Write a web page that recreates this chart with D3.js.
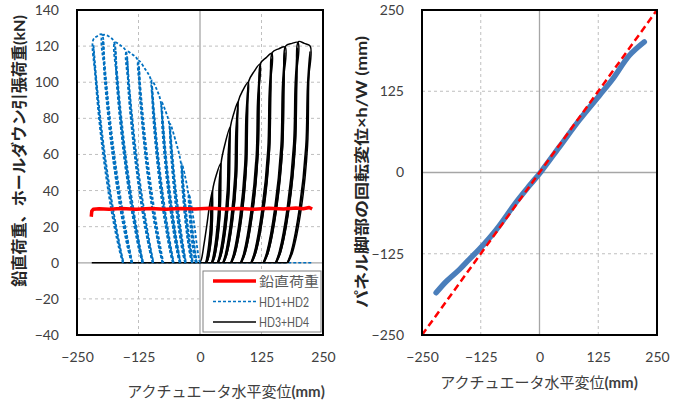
<!DOCTYPE html>
<html>
<head>
<meta charset="utf-8">
<script src="https://cdn.jsdelivr.net/npm/d3@7"></script>
<style>
  body { margin: 0; background: #fff; }
  text { font-family: Lato, "Noto Sans CJK JP", sans-serif; }
</style>
</head>
<body>
<svg id="chart" width="684" height="405"></svg>
<script>
// ---- data ----
var xTicks = [-250, -125, 0, 125, 250];
var yTicksLeft = [-40, -20, 0, 20, 40, 60, 80, 100, 120, 140];
var yTicksRight = [-250, -125, 0, 125, 250];

// vertical load (鉛直荷重), kN vs actuator displacement
var verticalLoad = [[-221,25.5],[-220,28.6],[-217,29.6],[-205,29.9],[-185,29.6],[-160,30.1],[-130,29.7],
  [-100,30.1],[-70,29.7],[-40,30.1],[-10,29.8],[20,30.2],[50,29.8],[80,30.1],[110,29.7],[140,30.2],
  [170,29.8],[195,30.4],[210,29.9],[222,30.6],[228,29.8]];

// HD1+HD2 cycles (two per amplitude)
var hd12Cycles = [
  [[0,0],[-2,2],[-6,9],[-11,20],[-17,31],[-22,38],[-20.5,30.8],[-17,19.8],[-12.4,9.1],[-8.7,2.5],[-7,0]],
  [[-8,0],[-10.7,2.5],[-14.9,9.1],[-19,19.8],[-21.5,30.8],[-21.5,35],[-19,28.8],[-15.5,19.8],[-10.9,9.1],[-7.7,2.5],[-6.5,0]],
  [[-8,0],[-10.7,2.5],[-14.4,9.1],[-19,19.8],[-22.5,30.8],[-24,38.5],[-30,47.5],[-37,55],[-34.8,44.6],[-29.7,28.6],[-22.9,13.2],[-17.4,3.6],[-15,0]],
  [[-16,0],[-19.4,3.6],[-25.4,13.2],[-31.7,28.6],[-35.8,44.6],[-36.5,52],[-33.3,42.6],[-28.2,28.6],[-21.4,13.2],[-16.4,3.6],[-14.5,0]],
  [[-16,0],[-19.4,3.6],[-24.9,13.2],[-31.7,28.6],[-36.8,44.6],[-39,55.5],[-49,67],[-61,77],[-57.8,62.4],[-50.4,40],[-40.5,18.5],[-32.5,5],[-29,0]],
  [[-30,0],[-34.5,5],[-43,18.5],[-52.4,40],[-58.8,62.4],[-60.5,74],[-56.3,60.4],[-48.9,40],[-39,18.5],[-31.5,5],[-28.5,0]],
  [[-30,0],[-34.5,5],[-42.5,18.5],[-52.4,40],[-59.8,62.4],[-63,77.5],[-70,84],[-78,89],[-74.2,72.1],[-65.5,46.3],[-53.7,21.4],[-44.2,5.8],[-40,0]],
  [[-41,0],[-46.2,5.8],[-56.2,21.4],[-67.5,46.3],[-75.2,72.1],[-77.5,86],[-72.7,70.1],[-64,46.3],[-52.2,21.4],[-43.2,5.8],[-39.5,0]],
  [[-41,0],[-46.2,5.8],[-55.7,21.4],[-67.5,46.3],[-76.2,72.1],[-80,89.5],[-88,96],[-98,101],[-93.6,81.8],[-83.5,52.5],[-69.8,24.2],[-58.8,6.6],[-54,0]],
  [[-55,0],[-60.8,6.6],[-72.3,24.2],[-85.5,52.5],[-94.6,81.8],[-97.5,98],[-92.1,79.8],[-82,52.5],[-68.3,24.2],[-57.8,6.6],[-53.5,0]],
  [[-55,0],[-60.8,6.6],[-71.8,24.2],[-85.5,52.5],[-95.6,81.8],[-100,101.5],[-112,107.5],[-125,112],[-120,90.7],[-108.5,58.2],[-93,26.9],[-80.5,7.3],[-75,0]],
  [[-76,0],[-82.5,7.3],[-95.5,26.9],[-110.5,58.2],[-121,90.7],[-124.5,109],[-118.5,88.7],[-107,58.2],[-91.5,26.9],[-79.5,7.3],[-74.5,0]],
  [[-76,0],[-82.5,7.3],[-95,26.9],[-110.5,58.2],[-122,90.7],[-127,112.5],[-138,115.5],[-149,117],[-143.6,94.8],[-131.2,60.8],[-114.4,28.1],[-100.9,7.6],[-95,0]],
  [[-96,0],[-102.9,7.6],[-116.9,28.1],[-133.2,60.8],[-144.6,94.8],[-148.5,114],[-142.1,92.8],[-129.7,60.8],[-112.9,28.1],[-99.9,7.6],[-94.5,0]],
  [[-96,0],[-102.9,7.6],[-116.4,28.1],[-133.2,60.8],[-145.6,94.8],[-151,117.5],[-162,120.5],[-173,122],[-167.3,98.8],[-154.2,63.4],[-136.5,29.3],[-122.3,7.9],[-116,0]],
  [[-117,0],[-124.3,7.9],[-139,29.3],[-156.2,63.4],[-168.3,98.8],[-172.5,119],[-165.8,96.8],[-152.7,63.4],[-135,29.3],[-121.3,7.9],[-115.5,0]],
  [[-117,0],[-124.3,7.9],[-138.5,29.3],[-156.2,63.4],[-169.3,98.8],[-175,122.5],[-186,125.5],[-198,126],[-192,102.1],[-178.2,65.5],[-159.6,30.2],[-144.6,8.2],[-138,0]],
  [[-139,0],[-146.6,8.2],[-162.1,30.2],[-180.2,65.5],[-193,102.1],[-197.5,123],[-190.5,100.1],[-176.7,65.5],[-158.1,30.2],[-143.6,8.2],[-137.5,0]],
  [[-139,0],[-146.6,8.2],[-161.6,30.2],[-180.2,65.5],[-194,102.1],[-200,126.5],[-209,125.5],[-217,123.5],[-210.9,100],[-196.9,64.2],[-178,29.6],[-162.7,8],[-156,0]],
  [[-157,0],[-164.7,8],[-180.5,29.6],[-198.9,64.2],[-211.9,100],[-216.5,120.5],[-209.4,98],[-195.4,64.2],[-176.5,29.6],[-161.7,8],[-155.5,0]]
];
var hd12Base = [[-156,0],[228,0]];

// HD3+HD4 cycles
var hd34Cycles = [
  [[0,0],[3,2],[8,10],[14,21],[19,31],[25,40],[23.8,33],[22.9,21.6],[19.2,10],[14.3,2],[12,0]],
  [[13,0],[16.3,2],[21.7,10],[24.9,21.6],[24.8,33],[24.5,37],[22.3,31],[21.4,21.6],[17.7,10],[13.3,2],[11.5,0]],
  [[13,0],[16.3,2],[21.2,10],[24.9,21.6],[25.8,33],[26,40.5],[33,48.5],[42,55],[40.4,45.6],[39.1,29.7],[33.9,13.8],[27.2,2.8],[24,0]],
  [[25,0],[29.2,2.8],[36.4,13.8],[41.1,29.7],[41.4,45.6],[41.5,52],[38.9,43.6],[37.6,29.7],[32.4,13.8],[26.2,2.8],[23.5,0]],
  [[25,0],[29.2,2.8],[35.9,13.8],[41.1,29.7],[42.4,45.6],[43,55.5],[51,66],[61,75],[58.8,62],[57,40.5],[49.8,18.8],[40.5,3.8],[36,0]],
  [[37,0],[42.5,3.8],[52.3,18.8],[59,40.5],[59.8,62],[60.5,72],[57.3,60],[55.5,40.5],[48.3,18.8],[39.5,3.8],[35.5,0]],
  [[37,0],[42.5,3.8],[51.8,18.8],[59,40.5],[60.8,62],[62,75.5],[69,83],[77,89],[74.3,73.9],[72.2,48.1],[63.5,22.3],[52.4,4.5],[47,0]],
  [[48,0],[54.4,4.5],[66,22.3],[74.2,48.1],[75.3,73.9],[76.5,86],[72.8,71.9],[70.7,48.1],[62,22.3],[51.4,4.5],[46.5,0]],
  [[48,0],[54.4,4.5],[65.5,22.3],[74.2,48.1],[76.3,73.9],[78,89.5],[87,95.5],[98,100],[94.9,83],[92.4,54],[82.3,25],[69.3,5],[63,0]],
  [[64,0],[71.3,5],[84.8,25],[94.4,54],[95.9,83],[97.5,97],[93.4,81],[90.9,54],[80.8,25],[68.3,5],[62.5,0]],
  [[64,0],[71.3,5],[84.3,25],[94.4,54],[96.9,83],[99,100.5],[110,106],[122,110],[118.5,91.3],[115.8,59.4],[104.5,27.5],[90,5.5],[83,0]],
  [[84,0],[92,5.5],[107,27.5],[117.8,59.4],[119.5,91.3],[121.5,107],[117,89.3],[114.3,59.4],[103,27.5],[89,5.5],[82.5,0]],
  [[84,0],[92,5.5],[106.5,27.5],[117.8,59.4],[120.5,91.3],[123,110.5],[134,113.5],[146,116],[142.2,96.3],[139.3,62.6],[127.1,29],[111.6,5.8],[104,0]],
  [[105,0],[113.6,5.8],[129.6,29],[141.3,62.6],[143.2,96.3],[145.5,113],[140.7,94.3],[137.8,62.6],[125.6,29],[110.6,5.8],[103.5,0]],
  [[105,0],[113.6,5.8],[129.1,29],[141.3,62.6],[144.2,96.3],[147,116.5],[160,118.5],[173,119.5],[169,99.2],[166,64.5],[153.2,29.9],[136.9,6],[129,0]],
  [[130,0],[138.9,6],[155.7,29.9],[168,64.5],[170,99.2],[172.5,116.5],[167.5,97.2],[164.5,64.5],[151.7,29.9],[135.9,6],[128.5,0]],
  [[130,0],[138.9,6],[155.2,29.9],[168,64.5],[171,99.2],[174,120],[187,121.5],[199,122],[195,101.3],[191.8,65.9],[178.8,30.5],[162.1,6.1],[154,0]],
  [[155,0],[164.1,6.1],[181.3,30.5],[193.8,65.9],[196,101.3],[198.5,119],[193.5,99.3],[190.3,65.9],[177.3,30.5],[161.1,6.1],[153.5,0]],
  [[155,0],[164.1,6.1],[180.8,30.5],[193.8,65.9],[197,101.3],[200,122.5],[212,121.5],[224,120],[219.9,99.6],[216.6,64.8],[203.3,30],[186.3,6],[178,0]],
  [[179,0],[188.3,6],[205.8,30],[218.6,64.8],[220.9,99.6],[223.5,117],[218.4,97.6],[215.1,64.8],[201.8,30],[185.3,6],[177.5,0]]
];
var hd34Base = [[-220,0],[178,0]];

// right chart: rotation displacement x h/W vs actuator displacement
var rotationBand = [[-220,-185],[-199,-168],[-170,-149],[-150,-134],[-128,-118],[-92,-88],[-50,-46],
  [-20,-19],[3,1],[43,40],[85,81],[128,119],[156,144],[191,180],[223,201]];
var referenceLine = [[-250,-250],[250,250]];

var legendItems = ["鉛直荷重", "HD1+HD2", "HD3+HD4"];

// ---- drawing ----
var svg = d3.select("#chart");

var xL = d3.scaleLinear().domain([-250, 250]).range([77, 323]);
var yL = d3.scaleLinear().domain([-40, 140]).range([335, 10]);
var xR = d3.scaleLinear().domain([-250, 250]).range([422, 657]);
var yR = d3.scaleLinear().domain([-250, 250]).range([335, 10]);

function grid(g, x, y, xt, yt) {
    var xd = x.domain(), yd = y.domain();
    g.selectAll("line.gx").data(xt.filter(d => d != xd[0] && d != xd[1]))
      .enter().append("line")
      .attr("x1", d => x(d)).attr("x2", d => x(d))
      .attr("y1", y.range()[0]).attr("y2", y.range()[1])
      .attr("stroke", d => d == 0 ? "#a6a6a6" : "#bfbfbf")
      .attr("stroke-width", d => d == 0 ? 1.3 : 1)
      .attr("stroke-dasharray", d => d == 0 ? null : "3,3");
    g.selectAll("line.gy").data(yt.filter(d => d != yd[0] && d != yd[1]))
      .enter().append("line")
      .attr("y1", d => y(d)).attr("y2", d => y(d))
      .attr("x1", x.range()[0]).attr("x2", x.range()[1])
      .attr("stroke", d => d == 0 ? "#a6a6a6" : "#bfbfbf")
      .attr("stroke-width", d => d == 0 ? 1.3 : 1)
      .attr("stroke-dasharray", d => d == 0 ? null : "3,3");
}

function axes(x, y, xt, yt) {
    var ax = svg.append("g").attr("transform", `translate(0,${y.range()[0]})`)
      .call(d3.axisBottom(x).tickValues(xt).tickSize(0).tickPadding(17));
    var ay = svg.append("g").attr("transform", `translate(${x.range()[0]},0)`)
      .call(d3.axisLeft(y).tickValues(yt).tickSize(0).tickPadding(18));
    [ax, ay].forEach(a => {
        a.select(".domain").remove();
        a.selectAll("text").attr("font-size", 14).attr("fill", "#404040")
          .style("font-family", "Lato, sans-serif");
    });
}

function frame(x, y) {
    svg.append("rect")
      .attr("x", x.range()[0]).attr("y", y.range()[1])
      .attr("width", x.range()[1] - x.range()[0])
      .attr("height", y.range()[0] - y.range()[1])
      .attr("fill", "none").attr("stroke", "#000").attr("stroke-width", 2);
}

// left chart
var gl = svg.append("g");
grid(gl, xL, yL, xTicks, yTicksLeft);

var lineL = d3.line().x(d => xL(d[0])).y(d => yL(d[1])).curve(d3.curveCatmullRom.alpha(0.5));
var lineFlat = d3.line().x(d => xL(d[0])).y(d => yL(d[1]));

gl.append("path").attr("d", lineFlat(hd12Base)).attr("fill", "none")
  .attr("stroke", "#0070c0").attr("stroke-width", 1.6).attr("stroke-dasharray", "3,2");
gl.append("path").attr("d", lineFlat(hd34Base)).attr("fill", "none")
  .attr("stroke", "#000").attr("stroke-width", 1.5);
gl.selectAll("path.hd34").data(hd34Cycles).enter().append("path")
  .attr("class", "hd34").attr("d", lineL).attr("fill", "none")
  .attr("stroke", "#000").attr("stroke-width", 1.5);
gl.selectAll("path.hd12").data(hd12Cycles).enter().append("path")
  .attr("class", "hd12").attr("d", lineL).attr("fill", "none")
  .attr("stroke", "#0070c0").attr("stroke-width", 1.8).attr("stroke-dasharray", "3,2");
gl.append("path").attr("d", lineFlat(verticalLoad)).attr("fill", "none")
  .attr("stroke", "#ff0000").attr("stroke-width", 3.5).attr("stroke-linejoin", "round");

frame(xL, yL);
axes(xL, yL, xTicks, yTicksLeft);

// legend
var lg = svg.append("g").attr("transform", "translate(203,271)");
lg.append("rect").attr("width", 118).attr("height", 61).attr("fill", "#fff")
  .attr("stroke", "#808080").attr("stroke-width", 1);
var styles = [
    {stroke: "#ff0000", w: 3.5, dash: null, len: 60},
    {stroke: "#0070c0", w: 1.6, dash: "3,2", len: 50},
    {stroke: "#000", w: 1.3, dash: null, len: 50}
];
legendItems.forEach(function(name, i) {
    var yy = 10 + i * 20.5;
    lg.append("line").attr("x1", 10).attr("x2", 53).attr("y1", yy).attr("y2", yy)
      .attr("stroke", styles[i].stroke).attr("stroke-width", styles[i].w)
      .attr("stroke-dasharray", styles[i].dash);
    lg.append("text").attr("x", 56).attr("y", yy + 5).text(name)
      .attr("font-size", 13).attr("fill", "#595959")
      .attr("textLength", styles[i].len).attr("lengthAdjust", "spacingAndGlyphs");
});

// right chart
var gr = svg.append("g");
grid(gr, xR, yR, xTicks, yTicksRight);
var lineR = d3.line().x(d => xR(d[0])).y(d => yR(d[1])).curve(d3.curveCatmullRom.alpha(0.5));
gr.append("path").attr("d", lineR(rotationBand)).attr("fill", "none")
  .attr("stroke", "#4a7ebb").attr("stroke-width", 5.5).attr("stroke-linecap", "round")
  .attr("stroke-linejoin", "round");
gr.append("path").attr("d", d3.line().x(d => xR(d[0])).y(d => yR(d[1]))(referenceLine))
  .attr("fill", "none").attr("stroke", "#ff0000").attr("stroke-width", 2.5)
  .attr("stroke-dasharray", "7,4");
frame(xR, yR);
axes(xR, yR, xTicks, yTicksRight);

// titles
function xTitle(cx, cy) {
    var t = svg.append("text").attr("x", cx).attr("y", cy).attr("text-anchor", "middle")
      .attr("font-size", 15).attr("fill", "#404040");
    t.append("tspan").text("アクチュエータ水平変位");
    t.append("tspan").text("(mm)").attr("font-weight", "bold");
}
xTitle(226, 397);
xTitle(539, 388);

svg.append("text").attr("transform", "translate(25,151) rotate(-90)")
  .attr("text-anchor", "middle").attr("font-size", 15.5).attr("font-weight", "bold")
  .attr("fill", "#262626").attr("textLength", 272).attr("lengthAdjust", "spacingAndGlyphs")
  .text("鉛直荷重、ホールダウン引張荷重(kN)");

svg.append("text").attr("transform", "translate(367,172) rotate(-90)")
  .attr("text-anchor", "middle").attr("font-size", 15).attr("font-weight", "bold")
  .attr("fill", "#262626").attr("textLength", 272).attr("lengthAdjust", "spacingAndGlyphs")
  .text("パネル脚部の回転変位×h/W  (mm)");
</script>
</body>
</html>
